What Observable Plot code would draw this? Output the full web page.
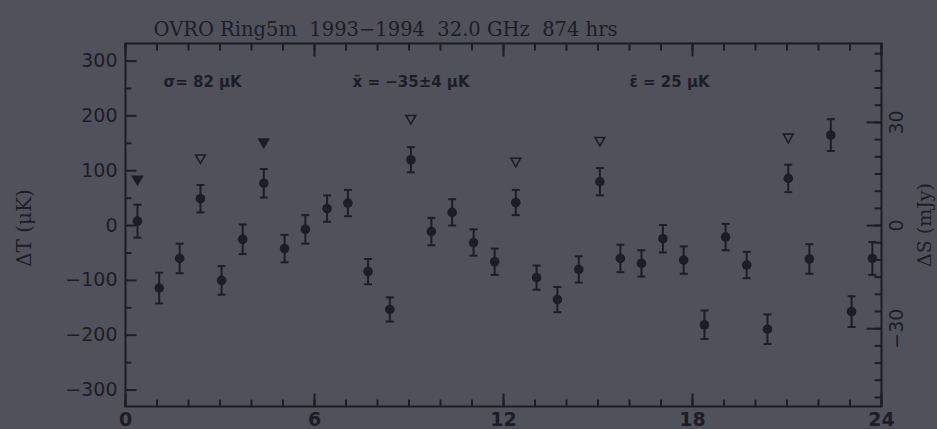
<!DOCTYPE html>
<html>
<head>
<meta charset="utf-8">
<script src="https://cdn.jsdelivr.net/npm/d3@7"></script>
<script src="https://cdn.jsdelivr.net/npm/@observablehq/plot@0.6"></script>
<style>
  html, body { margin: 0; padding: 0; background: #50515b; }
  svg text { white-space: pre; }
</style>
</head>
<body>
<div id="chart"></div>
<script>
// ---- data ----
const hours = [0.38,1.07,1.72,2.38,3.05,3.72,4.39,5.05,5.71,6.40,7.06,7.70,8.39,9.06,9.71,10.37,11.05,11.72,
               12.39,13.05,13.71,14.39,15.06,15.71,16.38,17.06,17.72,18.38,19.05,19.72,20.38,21.04,21.71,22.39,23.05,23.71];
const deltaT = [8,-114,-60,49,-100,-25,77,-42,-7,31,41,-84,-153,120,-11,24,-31,-66,
                42,-95,-135,-80,80,-60,-69,-24,-63,-181,-21,-72,-189,86,-61,165,-157,-60];
const errT = [30,28,27,25,26,27,26,25,26,24,24,23,22,23,25,24,24,24,
              23,22,23,24,25,25,24,25,25,26,24,24,27,25,27,29,28,30];

const triHours  = [0.38, 2.38, 4.39, 9.06, 12.39, 15.06, 21.04];
const triValues = [82, 121, 150, 193, 115, 153, 159];
const triFilled = [true, false, true, false, false, false, false];

const xMajor = [0, 6, 12, 18, 24];
const xMinor = d3.range(0, 25, 1);
const yMajor = [-300, -200, -100, 0, 100, 200, 300];
const yMinor = [-250, -150, -50, 50, 150, 250];
const sMajor = [-30, 0, 30];            // ΔS in mJy
const sMinor = d3.range(-50, 51, 5);    // ΔS in mJy
const muKperMJy = 6.27;                 // ΔT per ΔS

const titleText = "OVRO Ring5m  1993\u22121994  32.0 GHz  874 hrs";
const noteSigma = "\u03c3= 82 \u03bcK";
const noteMean = "x\u0304 = \u221235\u00b14 \u03bcK";
const noteErr = "\u03b5\u0304 = 25 \u03bcK";

// ---- build ----
const ink = "#1d1d27";
const bg = "#50515b";
const points = hours.map((h, i) => ({h, t: deltaT[i], lo: deltaT[i] - errT[i], hi: deltaT[i] + errT[i]}));
const tris = triHours.map((h, i) => ({h, t: triValues[i], filled: triFilled[i]}));
const sMinorT = sMinor.map(s => s * muKperMJy);
const sMajorT = sMajor.map(s => s * muKperMJy);

const capSymbol = {draw(ctx, size) { const w = Math.sqrt(size) / 2; ctx.moveTo(-w, 0); ctx.lineTo(w, 0); }};
const downTri = {draw(ctx, size) {
  const s = Math.sqrt(size);
  ctx.moveTo(-s / 2, -s * 0.43); ctx.lineTo(s / 2, -s * 0.43); ctx.lineTo(0, s * 0.43); ctx.closePath();
}};
// inward tick symbol: a line from the anchor point along (ux, uy) with fixed length
const tickSym = (ux, uy, len) => ({draw(ctx) { ctx.moveTo(0, 0); ctx.lineTo(ux * len, uy * len); }});
const tk = {stroke: ink, strokeWidth: 2, r: 3};

const serif = "'DejaVu Serif', serif";
const sans = "'DejaVu Sans', sans-serif";
const fmt = d => d < 0 ? "\u2212" + (-d) : String(d);

const chart = Plot.plot({
  width: 937, height: 429,
  marginLeft: 125, marginRight: 56, marginTop: 43, marginBottom: 23,
  style: {background: bg, color: ink, fontFamily: sans, fontSize: "18px", overflow: "visible"},
  x: {domain: [0, 24]},
  y: {domain: [-330, 332]},
  marks: [
    // inward ticks
    Plot.dot(xMinor, {x: d => d, frameAnchor: "bottom", symbol: tickSym(0, -1, 7), ...tk}),
    Plot.dot(xMajor, {x: d => d, frameAnchor: "bottom", symbol: tickSym(0, -1, 13), ...tk}),
    Plot.dot(xMinor, {x: d => d, frameAnchor: "top", symbol: tickSym(0, 1, 7), ...tk}),
    Plot.dot(xMajor, {x: d => d, frameAnchor: "top", symbol: tickSym(0, 1, 13), ...tk}),
    Plot.dot(yMinor, {y: d => d, frameAnchor: "left", symbol: tickSym(1, 0, 6), ...tk}),
    Plot.dot(yMajor, {y: d => d, frameAnchor: "left", symbol: tickSym(1, 0, 11), ...tk}),
    Plot.dot(sMinorT, {y: d => d, frameAnchor: "right", symbol: tickSym(-1, 0, 7), ...tk}),
    Plot.dot(sMajorT, {y: d => d, frameAnchor: "right", symbol: tickSym(-1, 0, 15), ...tk}),
    // tick labels
    Plot.axisX(xMajor, {anchor: "bottom", tickSize: 0, tickPadding: 6, label: null, fontSize: 19, fill: ink, fontWeight: "bold"}),
    Plot.axisY(yMajor, {anchor: "left", tickSize: 0, tickPadding: 8, label: null, fontSize: 19, fill: ink, tickFormat: fmt}),
    Plot.text(sMajor, {y: d => d * muKperMJy, frameAnchor: "right", dx: 15, rotate: -90, text: fmt,
                       fontSize: 19, fill: ink, textAnchor: "middle"}),
    Plot.frame({stroke: ink, strokeWidth: 2}),
    // axis labels
    Plot.text(["\u0394T (\u03bcK)"], {frameAnchor: "left", dx: -101, dy: 3, rotate: -90, text: d => d, textAnchor: "middle",
                                     fontFamily: serif, fontSize: 20, fill: ink}),
    Plot.text(["\u0394S (mJy)"], {frameAnchor: "right", dx: 43, rotate: -90, text: d => d, textAnchor: "middle",
                                   fontFamily: serif, fontSize: 19, fill: ink}),
    // title
    Plot.text([titleText], {frameAnchor: "top-left", dx: 28, dy: -21, text: d => d, textAnchor: "start",
                            fontFamily: serif, fontSize: 19.5, fill: ink}),
    // annotations
    Plot.text([noteSigma], {frameAnchor: "top-left", dx: 38, dy: 33, text: d => d, textAnchor: "start", fontSize: 15, fill: ink, fontWeight: "bold"}),
    Plot.text([noteMean], {frameAnchor: "top-left", dx: 227, dy: 33, text: d => d, textAnchor: "start", fontSize: 15, fill: ink, fontWeight: "bold"}),
    Plot.text([noteErr], {frameAnchor: "top-left", dx: 504, dy: 33, text: d => d, textAnchor: "start", fontSize: 15, fill: ink, fontWeight: "bold"}),
    // error bars
    Plot.ruleX(points, {x: "h", y1: "lo", y2: "hi", stroke: ink, strokeWidth: 2}),
    Plot.dot(points, {x: "h", y: "lo", symbol: capSymbol, r: 4.5, stroke: ink, strokeWidth: 2}),
    Plot.dot(points, {x: "h", y: "hi", symbol: capSymbol, r: 4.5, stroke: ink, strokeWidth: 2}),
    Plot.dot(points, {x: "h", y: "t", r: 4.8, fill: ink, stroke: "none"}),
    // triangles
    Plot.dot(tris, {x: "h", y: "t", symbol: downTri, r: 5.5, stroke: ink, strokeWidth: 1.6,
                    fill: d => d.filled ? ink : "none"})
  ]
});
document.getElementById("chart").appendChild(chart);
</script>
</body>
</html>
